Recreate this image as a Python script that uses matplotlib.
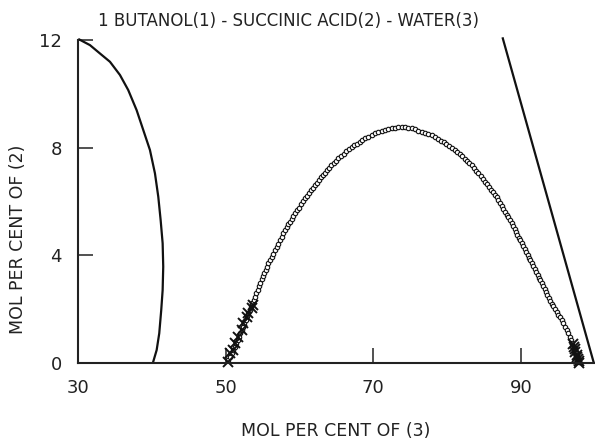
import matplotlib
matplotlib.use('Agg')
import matplotlib.pyplot as plt

##Data

title = '1 BUTANOL(1) - SUCCINIC ACID(2) - WATER(3)'
x_label = 'MOL PER CENT OF (3)'
y_label = 'MOL PER CENT OF (2)'
x_ticks = [30, 50, 70, 90]
y_ticks = [0, 4, 8, 12]

#organic side boundary (solid curve)
left_x = [30.19, 31.64, 32.99, 34.35, 35.70, 36.82, 37.96, 38.86, 39.76, 40.44,
          40.89, 41.21, 41.48, 41.56, 41.48, 41.29, 41.02, 40.67, 40.21]
left_y = [12.02, 11.81, 11.50, 11.19, 10.70, 10.14, 9.39, 8.65, 7.91, 7.04,
          6.17, 5.30, 4.44, 3.57, 2.70, 1.96, 1.09, 0.47, 0.04]

#straight line on the water side
right_x = [87.52, 99.79]
right_y = [12.06, 0.04]

#binodal dome (open circles)
dome_x = [50.36, 50.59, 50.81, 51.04,
          51.27, 51.45, 51.63, 51.82, 52.00,
          52.18, 52.36, 52.54, 52.71, 52.89,
          53.07, 53.25, 53.43, 53.62, 53.80,
          53.98, 54.16, 54.34, 54.53, 54.71,
          54.89, 55.07, 55.25, 55.42, 55.60,
          55.78, 56.01, 56.24, 56.46, 56.69,
          56.92, 57.14, 57.37, 57.59, 57.82,
          58.04, 58.27, 58.49, 58.72, 58.95, 59.17,
          59.40, 59.67, 59.94, 60.21, 60.48,
          60.75, 61.02, 61.29, 61.56, 61.83,
          62.10, 62.37, 62.63, 62.90, 63.16, 63.43,
          63.69, 64.00, 64.32, 64.63, 64.95,
          65.26, 65.62, 65.99, 66.35, 66.72,
          67.08, 67.44, 67.80, 68.16, 68.52,
          68.88, 69.33, 69.78, 70.23,
          70.68, 71.13, 71.59, 72.04,
          72.49, 72.95, 73.40, 73.85, 74.30, 74.75, 75.20,
          75.65, 76.10, 76.55, 77.00, 77.45, 77.90,
          78.35, 78.74, 79.12, 79.51, 79.90, 80.28, 80.67,
          81.06, 81.38, 81.71, 82.03, 82.35, 82.67, 83.00,
          83.32, 83.62, 83.92, 84.22, 84.52, 84.82,
          85.12, 85.38, 85.64, 85.90, 86.15, 86.41, 86.67,
          86.93, 87.16, 87.38, 87.61, 87.83, 88.06, 88.28, 88.51,
          88.73, 88.93, 89.12, 89.32, 89.51, 89.71, 89.90,
          90.10, 90.29, 90.49, 90.68, 90.87, 91.06, 91.26,
          91.45, 91.64, 91.84, 92.03, 92.22, 92.41, 92.61,
          92.80, 92.99, 93.19, 93.38, 93.57, 93.76, 93.96,
          94.15, 94.38, 94.60, 94.83, 95.05, 95.28,
          95.50, 95.73, 95.95, 96.18,
          96.40, 96.58, 96.76, 96.94, 97.12,
          97.30, 97.44, 97.58, 97.71, 97.85]
dome_y = [0.10, 0.23, 0.35, 0.48,
          0.60, 0.72, 0.85, 0.97, 1.10,
          1.22, 1.34, 1.47, 1.59, 1.72,
          1.84, 1.96, 2.08, 2.21, 2.33,
          2.45, 2.58, 2.71, 2.84, 2.97,
          3.10, 3.22, 3.34, 3.45, 3.57,
          3.69, 3.81, 3.94, 4.06, 4.19,
          4.31, 4.43, 4.56, 4.68, 4.81,
          4.93, 5.03, 5.14, 5.24, 5.34, 5.45,
          5.55, 5.66, 5.77, 5.89, 6.00,
          6.11, 6.21, 6.31, 6.41, 6.51,
          6.61, 6.70, 6.79, 6.89, 6.98, 7.07,
          7.16, 7.25, 7.34, 7.42, 7.51,
          7.60, 7.69, 7.77, 7.86, 7.94,
          8.03, 8.09, 8.15, 8.22, 8.28,
          8.34, 8.40, 8.47, 8.53,
          8.59, 8.62, 8.65, 8.68,
          8.71, 8.74, 8.76, 8.76, 8.75, 8.73, 8.71,
          8.68, 8.63, 8.59, 8.54, 8.49, 8.45,
          8.40, 8.33, 8.26, 8.19, 8.12, 8.05, 7.98,
          7.91, 7.83, 7.75, 7.67, 7.59, 7.51, 7.43,
          7.35, 7.25, 7.14, 7.04, 6.94, 6.83,
          6.73, 6.63, 6.54, 6.44, 6.34, 6.24, 6.15,
          6.05, 5.94, 5.83, 5.72, 5.62, 5.51, 5.40, 5.29,
          5.18, 5.07, 4.97, 4.86, 4.76, 4.65, 4.55,
          4.44, 4.33, 4.23, 4.12, 4.02, 3.91, 3.81,
          3.70, 3.59, 3.49, 3.38, 3.27, 3.16, 3.06,
          2.95, 2.84, 2.74, 2.63, 2.52, 2.41, 2.31,
          2.20, 2.10, 2.00, 1.90, 1.79, 1.69,
          1.59, 1.47, 1.34, 1.22,
          1.09, 0.97, 0.84, 0.72, 0.59,
          0.47, 0.36, 0.25, 0.13, 0.02]

#experimental points (crosses)
exp_x = [50.36, 50.59, 51.04, 51.27, 51.72, 52.18, 52.40, 52.85, 53.07, 53.53, 53.75,
         97.00, 97.15, 97.30, 97.35, 97.50, 97.60, 97.70, 97.85, 97.90]
exp_y = [0.04, 0.35, 0.47, 0.72, 0.97, 1.22, 1.46, 1.71, 1.84, 2.02, 2.14,
         0.70, 0.58, 0.50, 0.40, 0.30, 0.20, 0.12, 0.05, 0.00]

##Plot

fig = plt.figure(figsize=(5.95, 4.4), dpi=100)
ax = fig.add_axes([0.1308, 0.1757, 0.8692, 0.7334])

ax.plot(left_x, left_y, color='#111111', lw=1.6, clip_on=False)
ax.plot(right_x, right_y, color='#111111', lw=1.6, clip_on=False)
ax.plot(dome_x, dome_y, ls='none', marker='o', ms=3.2, mfc='white', mec='#111111', mew=0.8, clip_on=False)
ax.plot(exp_x, exp_y, ls='none', marker='x', ms=7, mec='#111111', mew=1.4, clip_on=False)

ax.set_xlim(30, 100)
ax.set_ylim(0, 12)
ax.set_xticks(x_ticks)
ax.set_yticks(y_ticks)
ax.tick_params(direction='in', length=10.5, width=1.1, pad=11.5, labelsize=13, colors='#222222')
for side in ['top', 'right']:
    ax.spines[side].set_visible(False)
for side in ['left', 'bottom']:
    ax.spines[side].set_linewidth(1.5)
    ax.spines[side].set_color('#222222')

fig.text(289/595, 1-26/440, title, ha='center', va='baseline', fontsize=12, color='#222222')
fig.text(336/595, 1-436/440, x_label, ha='center', va='baseline', fontsize=12.5, color='#222222')
fig.text(18/595, 201/440, y_label, ha='center', va='center', rotation=90, fontsize=12.5, color='#222222')

fig.savefig('out.png', dpi=100)
